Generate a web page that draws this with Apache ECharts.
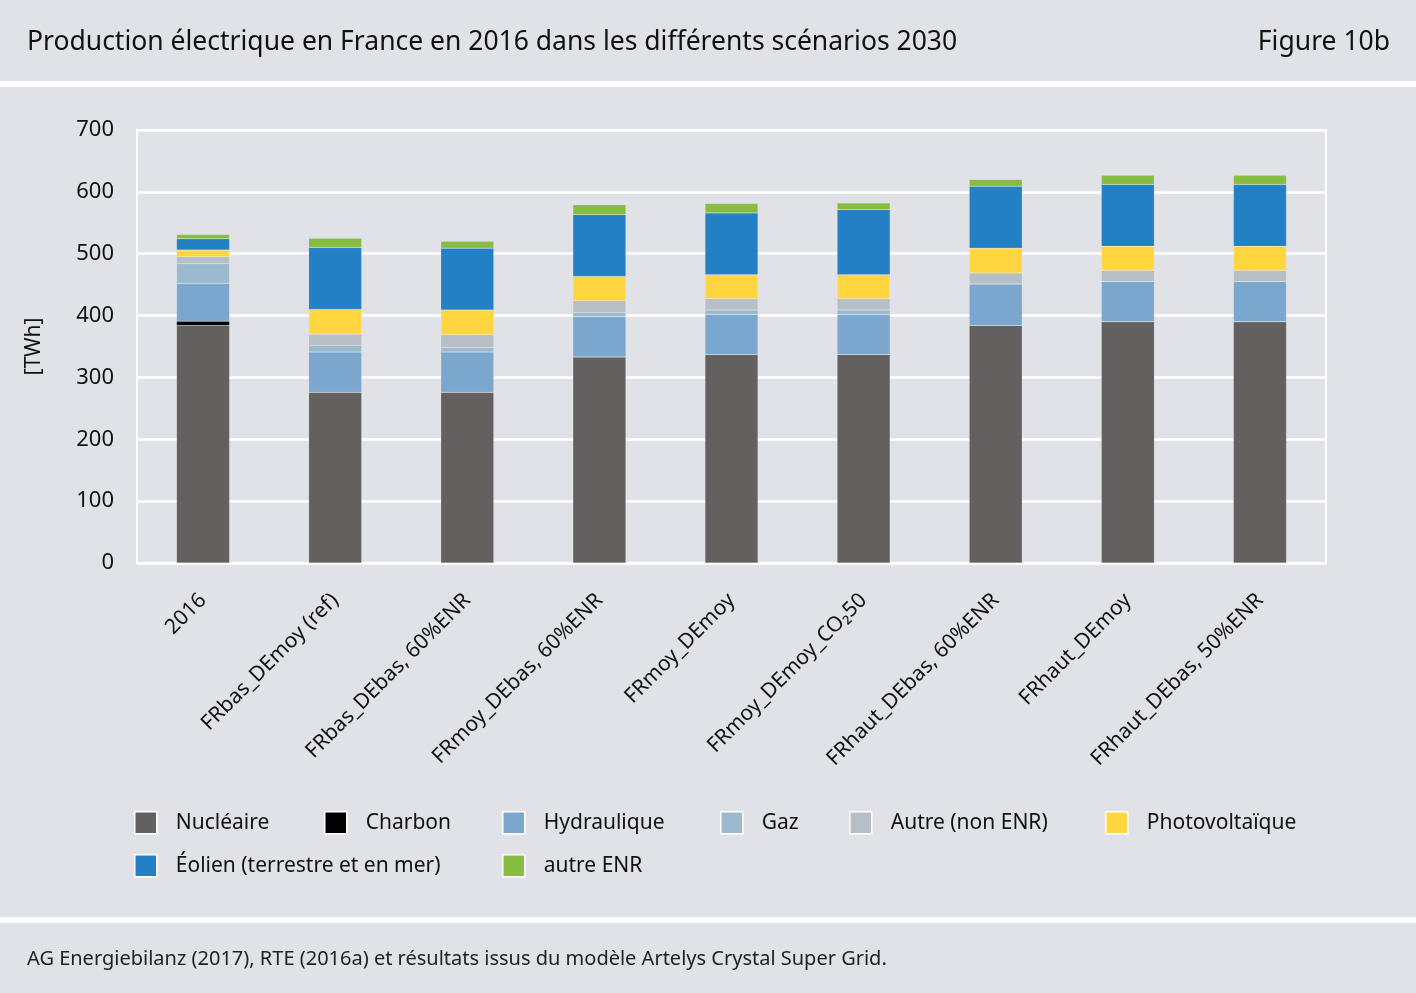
<!DOCTYPE html>
<html>
<head>
<meta charset="utf-8">
<script src="https://cdn.jsdelivr.net/npm/echarts@6/dist/echarts.min.js"></script>
<style>
  html, body { margin: 0; padding: 0; background: #e1e2e7; }
  #chart { width: 1416px; height: 993px; }
</style>
</head>
<body>
<div id="chart"></div>
<script>
var categories = ['2016', 'FRbas_DEmoy (ref)', 'FRbas_DEbas, 60%ENR', 'FRmoy_DEbas, 60%ENR', 'FRmoy_DEmoy',
    'FRmoy_DEmoy_CO\u208250', 'FRhaut_DEbas, 60%ENR', 'FRhaut_DEmoy', 'FRhaut_DEbas, 50%ENR'];

var nucleaire   = [384, 276, 276, 333, 337, 337, 384, 390, 390];
var charbon     = [7, 0, 0, 0, 0, 0, 0, 0, 0];
var hydraulique = [61, 65, 65, 65, 65, 65, 67, 65, 65];
var gaz         = [32, 11, 7, 7, 7, 7, 0, 0, 0];
var autre       = [11, 18, 21, 19, 18, 18, 18, 18, 18];
var pv          = [11, 40, 40, 39, 39, 39, 40, 39, 39];
var eolien      = [18, 100, 100, 100, 100, 105, 100, 100, 100];
var autreEnr    = [7, 15, 11, 16, 15, 11, 11, 15, 15];

var seriesNames  = ['Nucléaire', 'Charbon', 'Hydraulique', 'Gaz', 'Autre (non ENR)', 'Photovoltaïque',
    'Éolien (terrestre et en mer)', 'autre ENR'];
var seriesValues = [nucleaire, charbon, hydraulique, gaz, autre, pv, eolien, autreEnr];
var seriesColors = ['#62615f', '#000000', '#7ba7cf', '#9bbacd', '#b7bec6', '#ffd640', '#2480c5', '#86bd41'];

// legend slots (left, top) copied from the figure layout
var legendPos = [[135, 811], [325, 811], [503, 811], [721, 811], [850, 811], [1106, 811],
    [135, 854], [503, 854]];

var font = 'Noto Sans';
var myChart = echarts.init(document.getElementById('chart'));

var option = {
    backgroundColor: '#e1e2e7',
    textStyle: { fontFamily: font },
    animation: false,
    title: [{
        text: 'Production électrique en France en 2016 dans les différents scénarios 2030',
        left: 22, top: 24,
        textStyle: { fontFamily: font, fontSize: 26.5, fontWeight: 'normal', color: '#111' }
    }, {
        text: 'Figure 10b',
        right: 21, top: 24,
        textStyle: { fontFamily: font, fontSize: 26.5, fontWeight: 'normal', color: '#111' }
    }, {
        text: 'AG Energiebilanz (2017), RTE (2016a) et résultats issus du modèle Artelys Crystal Super Grid.',
        left: 22, top: 944,
        textStyle: { fontFamily: font, fontSize: 20, fontWeight: 'normal', color: '#222' }
    }],
    graphic: [
        { type: 'rect', shape: { x: 0, y: 81, width: 1416, height: 6 }, style: { fill: '#fff' } },
        { type: 'rect', shape: { x: 0, y: 917, width: 1416, height: 6 }, style: { fill: '#fff' } }
    ],
    legend: legendPos.map(function (p, i) {
        return {
            left: p[0] - 6, top: p[1] - 5,
            data: [seriesNames[i]],
            icon: 'rect',
            itemWidth: 22, itemHeight: 22,
            itemGap: 0,
            itemStyle: { borderColor: '#fff', borderWidth: 1.5 },
            textStyle: { fontFamily: font, fontSize: 21, color: '#111', padding: [0, 0, 0, 14] },
            selectedMode: false
        };
    }),
    grid: {
        left: 137, right: 90, top: 130, bottom: 430,
        show: true, borderColor: '#fff', borderWidth: 2, backgroundColor: 'transparent'
    },
    xAxis: {
        type: 'category',
        data: categories,
        axisLine: { show: false },
        axisTick: { show: false },
        axisLabel: {
            rotate: 45, interval: 0, margin: 34,
            fontFamily: font, fontSize: 21, color: '#111'
        }
    },
    yAxis: {
        type: 'value',
        min: 0, max: 700, interval: 100,
        name: '[TWh]',
        nameLocation: 'middle',
        nameRotate: 90,
        nameGap: 92,
        nameTextStyle: { fontFamily: font, fontSize: 21, color: '#111' },
        axisLine: { show: false },
        axisTick: { show: false },
        axisLabel: { fontFamily: font, fontSize: 22, color: '#111', margin: 23 },
        splitLine: { lineStyle: { color: '#fff', width: 2.5 } }
    },
    series: seriesNames.map(function (name, i) {
        return {
            name: name,
            type: 'bar',
            stack: 'total',
            barWidth: 53,
            data: seriesValues[i],
            itemStyle: { color: seriesColors[i], borderColor: 'rgba(255,255,255,0.25)', borderWidth: 0.5 }
        };
    })
};

myChart.setOption(option);
</script>
</body>
</html>
